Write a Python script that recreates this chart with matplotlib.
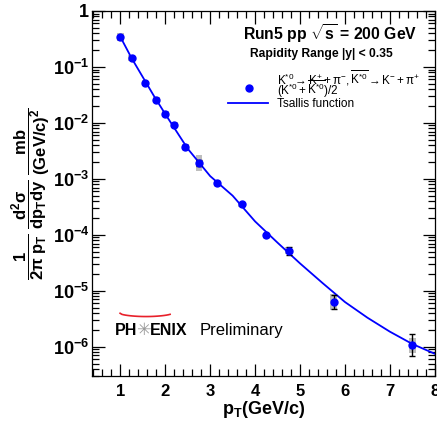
import numpy as np
import matplotlib
matplotlib.use("Agg")
import matplotlib.pyplot as plt
from matplotlib.ticker import LogLocator, MultipleLocator, FuncFormatter

plt.rcParams['font.family'] = ['Liberation Sans', 'DejaVu Sans']
plt.rcParams['mathtext.fontset'] = 'custom'
plt.rcParams['mathtext.rm'] = 'Liberation Sans'
plt.rcParams['mathtext.it'] = 'Liberation Sans:italic'
plt.rcParams['mathtext.bf'] = 'Liberation Sans:bold'

# K*0 spectrum
pt = [1.0, 1.25, 1.55, 1.8, 2.0, 2.2, 2.45, 2.75, 3.15, 3.7, 4.25, 4.75, 5.75, 7.5]
yld = [0.34, 0.145, 0.052, 0.026, 0.0145, 0.0093, 0.0037, 0.0019, 8.5e-4,
       3.5e-4, 9.8e-5, 5.2e-5, 6.3e-6, 1.07e-6]
stat_dec = [0.03, 0.02, 0.02, 0.02, 0.02, 0.02, 0.03, 0.05, 0.03, 0.03,
            0.03, 0.075, 0.13, 0.2]          # stat. error, decades
sys_dec = [0.07, 0.05, 0.05, 0.05, 0.05, 0.05, 0.05, 0.14, 0.05, 0.05,
           0.05, 0.06, 0.14, 0.135]          # syst. error, decades

# Tsallis fit curve
fit_pt = [1.0, 1.25, 1.5, 1.75, 2.0, 2.5, 3.0, 3.5, 4.0, 4.5, 5.0, 5.5,
          6.0, 6.5, 7.0, 7.5, 8.0]
fit_log = [-0.46, -0.84, -1.18, -1.52, -1.84, -2.46, -2.95, -3.30, -3.76,
           -4.14, -4.51, -4.86, -5.20, -5.48, -5.73, -5.95, -6.125]

pt = np.array(pt)
yld = np.array(yld)
stat = np.array(stat_dec)
sysd = np.array(sys_dec)

fig = plt.figure(figsize=(4.37, 4.23), dpi=100)
ax = fig.add_axes([0.2105, 0.111, 0.7845, 0.863])

# systematic boxes
lo = yld * 10**(-sysd)
hi = yld * 10**(sysd)
ax.bar(pt, hi - lo, bottom=lo, width=0.15, color='#bdbdbd', zorder=1)

# Tsallis curve
ax.plot(fit_pt, 10**np.array(fit_log), color='#0000ff', lw=1.3, zorder=2)

# points with stat errors
yerr = [yld * (1 - 10**(-stat)), yld * (10**stat - 1)]
ax.errorbar(pt, yld, yerr=yerr, fmt='none', ecolor='black', elinewidth=1,
            capsize=2.5, capthick=1, zorder=3)
ax.plot(pt, yld, 'o', color='#0000ff', ms=5, zorder=4)

ax.set_yscale('log')
ax.set_xlim(0.37, 8.0)
ax.set_ylim(3e-7, 1.0)

ax.xaxis.set_major_locator(MultipleLocator(1))
ax.xaxis.set_minor_locator(MultipleLocator(0.2))
ax.yaxis.set_major_locator(LogLocator(base=10, numticks=12))
ax.yaxis.set_minor_locator(LogLocator(base=10, subs=np.arange(2, 10), numticks=12))


def ylab(v, pos):
    e = int(round(np.log10(v)))
    if e == 0:
        return r'$\mathbf{1}$'
    return r'$\mathbf{10^{%d}}$' % e


ax.yaxis.set_major_formatter(FuncFormatter(ylab))
ax.tick_params(which='both', direction='in', top=True, right=True, width=0.9,
               color='black')
ax.tick_params(which='major', length=9)
ax.tick_params(which='minor', length=5)
ax.tick_params(axis='y', which='major', labelsize=13, pad=2)
ax.tick_params(axis='x', which='major', labelsize=12, pad=6)
for t in ax.get_xticklabels():
    t.set_fontweight('bold')
for s in ax.spines.values():
    s.set_linewidth(0.9)

ax.set_xlabel(r'$\mathbf{p_{T}}$' + r'$\mathbf{(GeV/c)}$', fontsize=13, labelpad=0)
ax.set_ylabel(r'$\mathbf{\dfrac{1}{2\pi\ p_{T}}\ \dfrac{d^{2}\sigma}{dp_{T}dy}\ \dfrac{mb}{(GeV/c)^{2}}}$',
              fontsize=12, labelpad=0.5)

# header text
ax.text(0.694, 0.938, r'Run5 pp $\mathbf{\sqrt{s}}$ = 200 GeV', transform=ax.transAxes,
        ha='center', va='center', fontsize=11.3, fontweight='bold')
ax.text(0.668, 0.882, 'Rapidity Range |y| < 0.35', transform=ax.transAxes,
        ha='center', va='center', fontsize=8.7, fontweight='bold')

# legend
ax.plot([0.458], [0.789], 'o', color='#0000ff', ms=5, transform=ax.transAxes, clip_on=False)
ax.plot([0.397, 0.513], [0.748, 0.748], color='#0000ff', lw=1.3, transform=ax.transAxes)
ax.text(0.539, 0.800, r'$\mathregular{K^{*0} \rightarrow K^{+} + \pi^{-}, \overline{K^{*0}} \rightarrow K^{-} + \pi^{+}}$',
        transform=ax.transAxes, ha='left', va='baseline', fontsize=8.4)
ax.text(0.539, 0.770, r'$\mathregular{(K^{*0} + \overline{K^{*0}})/2}$',
        transform=ax.transAxes, ha='left', va='baseline', fontsize=8.4)
ax.text(0.539, 0.738, 'Tsallis function', transform=ax.transAxes,
        ha='left', va='baseline', fontsize=8.6)

# PHENIX preliminary logo
ax.text(0.067, 0.126, 'PH', transform=ax.transAxes, ha='left', va='center',
        fontsize=11.5, fontweight='bold')
ax.text(0.129, 0.126, '\u2733', transform=ax.transAxes, ha='left', va='center',
        fontsize=12.5, color='#999999', family=['DejaVu Sans'])
ax.text(0.17, 0.126, 'ENIX', transform=ax.transAxes, ha='left', va='center',
        fontsize=11.5, fontweight='bold')
ax.text(0.315, 0.126, 'Preliminary', transform=ax.transAxes, ha='left', va='center',
        fontsize=12)
arc_x = np.linspace(0.082, 0.233, 30)
arc_y = 0.172 - 0.009 * np.sin(np.pi * (arc_x - 0.082) / 0.151) ** 0.5
ax.plot(arc_x, arc_y, color='#e8202a', lw=1.2, transform=ax.transAxes)

fig.savefig('out.png', dpi=100)
